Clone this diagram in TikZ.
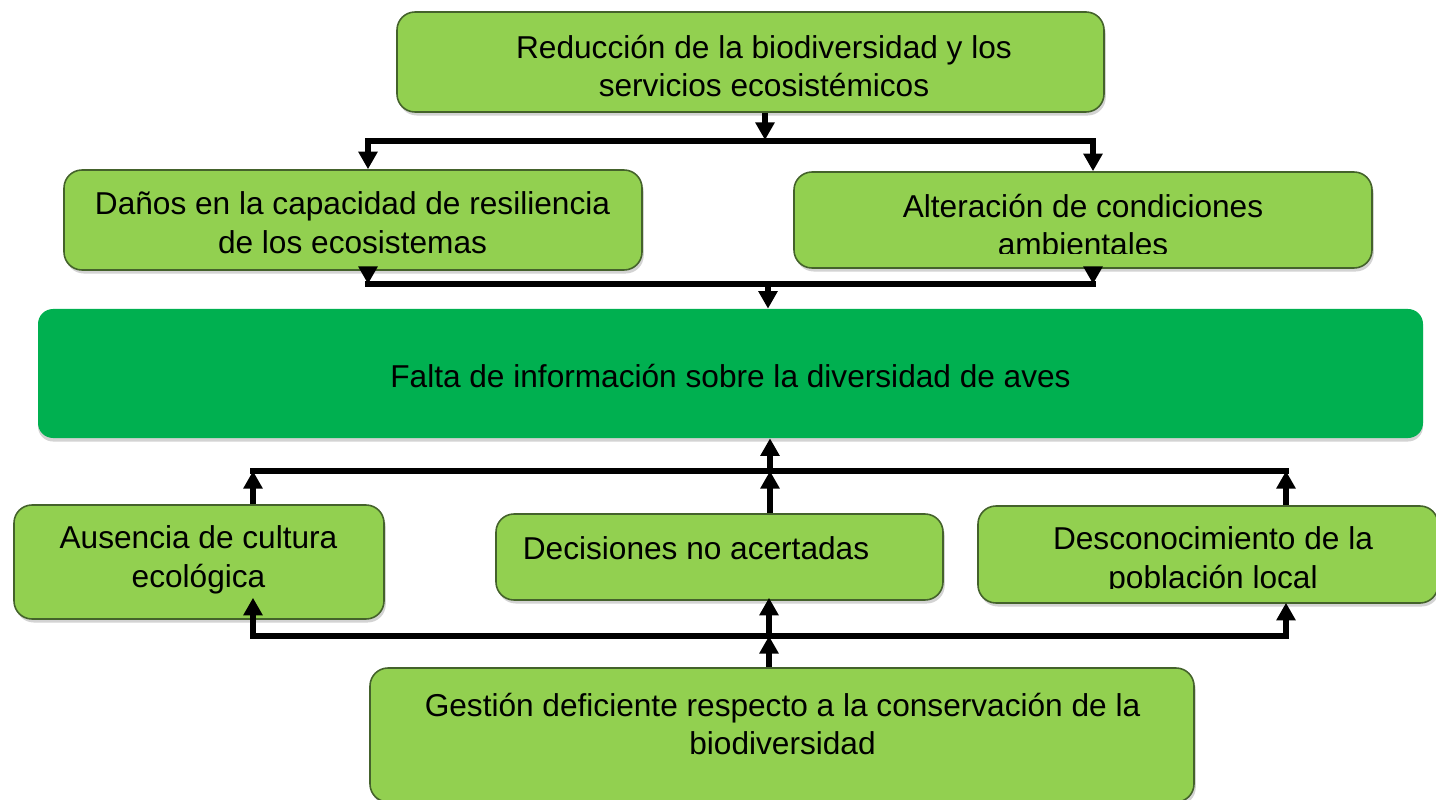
\documentclass[tikz,border=0pt]{standalone}
\usepackage{fontspec}
\setmainfont{Liberation Sans}
\usetikzlibrary{calc, shadows, arrows.meta}
\definecolor{lightgreen}{HTML}{92D050}
\definecolor{maingreen}{HTML}{00B050}
\definecolor{edgegreen}{HTML}{44622B}
\tikzset{>={Triangle[length=10pt,width=10.5pt]}}
\tikzset{
  box/.style={draw=edgegreen, line width=0.9pt, fill=lightgreen, rounded corners=0.36cm,
    drop shadow={shadow xshift=1pt, shadow yshift=-2pt, opacity=.35}},
  mainbox/.style={fill=maingreen, rounded corners=0.3cm,
    drop shadow={shadow xshift=0pt, shadow yshift=-2pt, opacity=.35}},
  boxsize/.style 2 args={minimum width=#1*0.02cm, minimum height=#2*0.02cm, inner sep=0pt},
  txt/.style={align=center, font=\fontsize{18}{22}\selectfont, inner sep=0pt},
  link/.style={line width=3pt},
  bar/.style={line width=3.2pt, line cap=rect}
}

\begin{document}
\begin{tikzpicture}[x=0.02cm, y=-0.02cm]
\useasboundingbox (0,0) rectangle (1436,800);
% boxes
\node[box, boxsize={707}{100}] (reduc) at (750.5,62) {};
\node[box, boxsize={578}{100}] (danos) at (353,220) {};
\node[box, boxsize={578}{96}] (alter) at (1083,220) {};
\node[mainbox, boxsize={1385}{129}] (falta) at (730.5,373.5) {};
\node[box, boxsize={370}{114}] (ausen) at (199,562) {};
\node[box, boxsize={447}{86}] (decis) at (719.5,557) {};
\node[box, boxsize={460}{97}] (desco) at (1208,554.5) {};
\node[box, boxsize={824}{134}] (gest) at (782,735) {};
% texts
\node[txt] (reducT) at (764,66) {Reducción de la biodiversidad y los\\servicios ecosistémicos};
\node[txt] (danosT) at (352.5,223) {Daños en la capacidad de resiliencia\\de los ecosistemas};
\begin{scope}
\clip ($(alter.south west)+(0,-15.5)$) rectangle (alter.north east);
\node[txt] (alterT) at (1083,225) {Alteración de condiciones\\ambientales};
\end{scope}
\node[txt] (faltaT) at (730.5,376) {Falta de información sobre la diversidad de aves};
\node[txt] (ausenT) at (198.5,560) {Ausencia de cultura\\ecológica};
\node[txt] (decisT) at (696,548) {Decisiones no acertadas};
\begin{scope}
\clip ($(desco.south west)+(0,-15)$) rectangle (desco.north east);
\node[txt] (descoT) at (1213,561) {Desconocimiento de la\\población local};
\end{scope}
\node[txt] (gestT) at (782.5,724) {Gestión deficiente respecto a la conservación de la\\biodiversidad};
% effects
\coordinate (topbarl) at (368,141);
\coordinate (topbarm) at (765,141);
\coordinate (topbarr) at (1093,141);
\draw[link,->] (reduc.south -| topbarm) -- ($(topbarm)+(0,-1)$);
\draw[bar] (topbarl) -- (topbarr);
\draw[link,->] (topbarl) -- (danos.north -| topbarl);
\draw[link,->] (topbarr) -- (alter.north -| topbarr);
\coordinate (midbarl) at (368,284);
\coordinate (midbarm) at (768,284);
\coordinate (midbarr) at (1093,284);
\draw[link,->] (danos.south -| midbarl) -- (midbarl);
\draw[link,->] (alter.south -| midbarr) -- (midbarr);
\draw[bar] (midbarl) -- (midbarr);
\draw[link,->] (midbarm) -- (falta.north -| midbarm);
% causes
\coordinate (upbarl) at (253,471);
\coordinate (upbarm) at (770,471);
\coordinate (upbarr) at (1286,471);
\draw[link,->] (upbarm) -- (falta.south -| upbarm);
\draw[bar] (upbarl) -- (upbarr);
\draw[link,->] (ausen.north -| upbarl) -- (upbarl);
\draw[link,->] (decis.north -| upbarm) -- (upbarm);
\draw[link,->] (desco.north -| upbarr) -- (upbarr);
\coordinate (lowbarl) at (253,636);
\coordinate (lowbarm) at (769,636);
\coordinate (lowbarr) at (1286,636);
\draw[bar] (lowbarl) -- (lowbarr);
\draw[link,->] (gest.north -| lowbarm) -- (lowbarm);
\draw[link,->] (lowbarl) -- ($(ausen.south -| lowbarl)+(0,-22)$);
\draw[link,->] (lowbarm) -- ($(decis.south -| lowbarm)+(0,-3)$);
\draw[link,->] (lowbarr) -- ($(desco.south -| lowbarr)+(0,-1)$);
\end{tikzpicture}
\end{document}
